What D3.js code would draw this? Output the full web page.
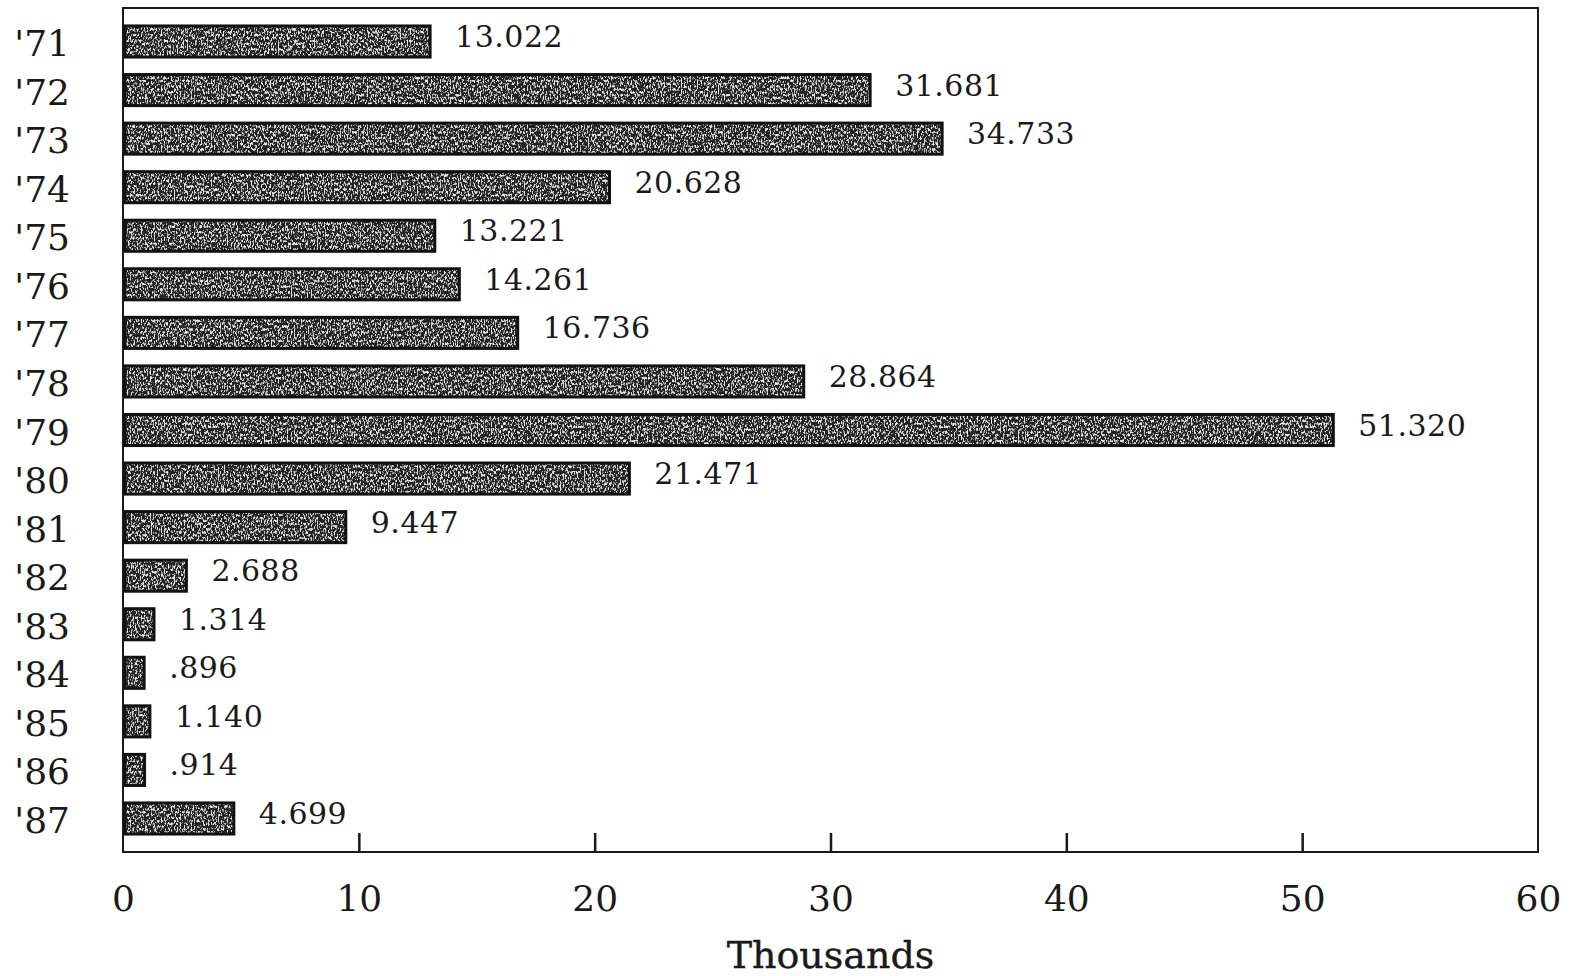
<!DOCTYPE html>
<html>
<head>
<meta charset="utf-8">
<script src="https://cdn.jsdelivr.net/npm/d3@7"></script>
<style>
  html, body { margin: 0; padding: 0; background: #fff; }
  svg { display: block; }
  text { font-family: "DejaVu Serif", "Liberation Serif", serif; fill: #1a1a1a; }
</style>
</head>
<body>
<svg id="chart" width="1571" height="976"></svg>
<script>
// ---- data ----
const years = ["'71","'72","'73","'74","'75","'76","'77","'78","'79","'80","'81","'82","'83","'84","'85","'86","'87"];
const values = [13.022, 31.681, 34.733, 20.628, 13.221, 14.261, 16.736, 28.864, 51.320, 21.471, 9.447, 2.688, 1.314, 0.896, 1.140, 0.914, 4.699];
const valueLabels = ["13.022","31.681","34.733","20.628","13.221","14.261","16.736","28.864","51.320","21.471","9.447","2.688","1.314",".896","1.140",".914","4.699"];
const xTicks = [0, 10, 20, 30, 40, 50, 60];
const xTitle = "Thousands";

(function () {
const svg = d3.select("#chart");
const mLeft = 123, mRight = 1538, mTop = 8, mBottom = 852;

const x = d3.scaleLinear().domain([0, 60]).range([mLeft, mRight]);
const y = d3.scaleBand().domain(years).range([mTop, mBottom]).paddingInner(0.36).paddingOuter(0.37);

// grain filter for the bars
const defs = svg.append("defs");
const f = defs.append("filter").attr("id", "grain")
  .attr("x", 0).attr("y", 0).attr("width", 1).attr("height", 1);
f.append("feTurbulence").attr("type", "fractalNoise")
  .attr("baseFrequency", "0.7 0.35").attr("numOctaves", 2).attr("seed", 11).attr("result", "n");
f.append("feColorMatrix").attr("in", "n").attr("type", "matrix")
  .attr("values", "0 0 0 0 0.82  0 0 0 0 0.82  0 0 0 0 0.82  6 0 0 0 -3.05").attr("result", "speck");
f.append("feComposite").attr("in", "speck").attr("in2", "SourceGraphic").attr("operator", "in").attr("result", "s2");
const mg = f.append("feMerge");
mg.append("feMergeNode").attr("in", "SourceGraphic");
mg.append("feMergeNode").attr("in", "s2");

// frame
svg.append("rect")
  .attr("x", mLeft).attr("y", mTop)
  .attr("width", mRight - mLeft).attr("height", mBottom - mTop)
  .attr("fill", "none").attr("stroke", "#1a1a1a").attr("stroke-width", 2);

// bars
const bars = svg.append("g");
years.forEach((yr, i) => {
  const g = bars.append("g");
  g.append("rect")
    .attr("x", x(0) + 2)
    .attr("y", y(yr))
    .attr("width", Math.max(0, x(values[i]) - x(0) - 2))
    .attr("height", y.bandwidth())
    .attr("fill", "#222")
    .attr("filter", "url(#grain)");
  g.append("rect")
    .attr("x", x(0) + 2)
    .attr("y", y(yr))
    .attr("width", Math.max(0, x(values[i]) - x(0) - 2))
    .attr("height", y.bandwidth())
    .attr("fill", "none")
    .attr("stroke", "#111")
    .attr("stroke-width", 3);
});

// value labels
const lbl = svg.append("g");
years.forEach((yr, i) => {
  lbl.append("text")
    .attr("x", x(values[i]) + 25)
    .attr("y", y(yr) + y.bandwidth() / 2 - 5)
    .attr("dominant-baseline", "central")
    .attr("font-size", 30)
    .attr("letter-spacing", 0.5)
    .text(valueLabels[i]);
});

// category labels
const cat = svg.append("g");
years.forEach((yr) => {
  cat.append("text")
    .attr("x", 70)
    .attr("y", y(yr) + y.bandwidth() / 2 + 2)
    .attr("text-anchor", "end")
    .attr("dominant-baseline", "central")
    .attr("font-size", 36)
    .text(yr);
});

// x axis with inward ticks
const xAxis = d3.axisBottom(x).tickValues(xTicks).tickSize(0).tickPadding(0).tickFormat(d3.format("d"));
const ax = svg.append("g").attr("transform", `translate(0,${mBottom})`).call(xAxis);
ax.select(".domain").remove();
ax.selectAll(".tick text")
  .attr("y", 59)
  .attr("dy", 0)
  .attr("font-size", 36)
  .attr("fill", "#1a1a1a")
  .attr("font-family", "DejaVu Serif, serif");
ax.selectAll(".tick").filter(d => d > 0 && d < 60)
  .append("line").attr("y1", 0).attr("y2", -19)
  .attr("stroke", "#1a1a1a").attr("stroke-width", 2.5);

svg.append("text")
  .attr("x", x(30))
  .attr("y", 968)
  .attr("text-anchor", "middle")
  .attr("font-size", 38)
  .attr("stroke", "#1a1a1a")
  .attr("stroke-width", 0.4)
  .text(xTitle);
})();
</script>
</body>
</html>
